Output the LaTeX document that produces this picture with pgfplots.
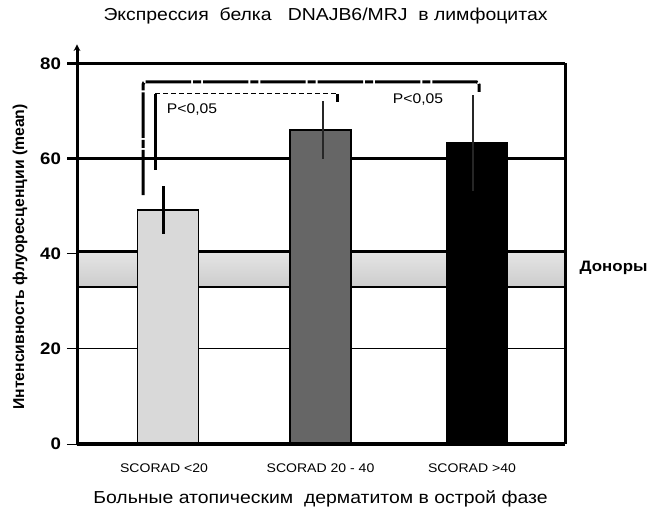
\documentclass[border=0pt]{standalone}
\usepackage{fontspec}
\setmainfont{Liberation Sans}[FakeStretch=1.12]
\newfontfamily\ylfont{Liberation Sans}
\usepackage{pgfplots}
\pgfplotsset{compat=1.18}
\usetikzlibrary{arrows.meta}
\begin{document}
\begin{tikzpicture}
\begin{axis}[
  name=ax, at={(0,0)}, anchor=south west,
  scale only axis, width=366pt, height=285.5pt,
  xmin=77, xmax=565, ymin=0, ymax=80,
  clip=false,
  axis line style={draw=none},
  ytick={0,20,40,60,80},
  ytick pos=left, tick align=outside,
  major tick length=7.5pt,
  ytick style={black, line width=0.6pt},
  yticklabel style={font=\bfseries\fontsize{12.5}{12.5}\selectfont, xshift=-1pt},
  /pgf/number format/assume math mode=true,
  xtick={164,320.5,472},
  xticklabels={SCORAD <20, SCORAD 20 - 40, SCORAD >40},
  xtick style={draw=none},
  xticklabel style={font=\fontsize{9.4}{9.4}\selectfont, yshift=-4pt},
]
% donor band (range 33 - 40.5)
\shade[top color=black!10, middle color=white, bottom color=black!20, shading angle=0]
  (axis cs:77,33) rectangle (axis cs:565,40.5);
\addplot[black, line width=2pt] coordinates {(77,40.5) (565,40.5)};
\addplot[black, line width=2pt] coordinates {(77,33) (565,33)};
% reference lines
\addplot[black, line width=0.8pt] coordinates {(77,20) (565,20)};
\addplot[black, line width=2.25pt] coordinates {(67,60) (565,60)};
\addplot[black, line width=2.25pt] coordinates {(67,80) (565,80)};
% bars
\addplot[ybar, bar shift=0pt, bar width=45.75pt, fill=black!15, draw=black, line width=1.2pt] coordinates {(167.8,49.2)};
\addplot[ybar, bar shift=0pt, bar width=45.75pt, fill=black!60, draw=black, line width=1.2pt] coordinates {(320.5,66.0)};
\addplot[ybar, bar shift=0pt, bar width=45.75pt, fill=black, draw=black, line width=1.2pt] coordinates {(477,63.2)};
% error bars
\addplot[draw=none, mark=none, error bars/.cd, y dir=both, y explicit, error mark=none,
  error bar style={black, line width=2.25pt}]
  coordinates {(163,49.2) +- (0,5.0)};
\addplot[draw=none, mark=none, error bars/.cd, y dir=both, y explicit, error mark=none,
  error bar style={black!85, line width=1.5pt}]
  coordinates {(323,66.0) +- (0,6.0)};
\addplot[draw=none, mark=none, error bars/.cd, y dir=both, y explicit, error mark=none,
  error bar style={black!85, line width=1.5pt}]
  coordinates {(473,63.2) +- (0,10.1)};
% significance brackets
\addplot[black, line width=2.25pt, dash pattern=on 34pt off 1.5pt on 6pt off 1.5pt, rounded corners=2pt]
  coordinates {(143,52.3) (143,76.1) (479,76.1) (479,73.9)};
\addplot[black, line width=0.8pt, dash pattern=on 4pt off 2pt]
  coordinates {(155,73.6) (337,73.6)};
\addplot[black, line width=2.25pt] coordinates {(155,57.6) (155,73.6)};
\addplot[black, line width=2.25pt] coordinates {(337,73.6) (337,71.9)};
\node[font=\fontsize{10.5}{10.5}\selectfont] at (axis cs:192,70.4) {P<0,05};
\node[font=\fontsize{10.5}{10.5}\selectfont] at (axis cs:418,72.3) {P<0,05};
% axis frame
\addplot[black, line width=3pt] coordinates {(77,0) (565,0)};
\addplot[black, line width=2.25pt] coordinates {(565,0) (565,80)};
\draw[black, line width=2.25pt, -{Stealth[length=5pt,width=5pt]}] (axis cs:77,-0.3) -- (axis cs:77,84);
\end{axis}
\begin{scope}[x=0.75pt, y=-0.75pt, shift={(-57.75pt,333pt)}]
\path (0,0) rectangle (652,511);
\node[anchor=base, font=\fontsize{13}{13}\selectfont] at (325.5,20.7) {Экспрессия\ \ белка\ \ \ DNAJB6/MRJ\ \ в лимфоцитах};
\node[anchor=base, font=\fontsize{13}{13}\selectfont] at (320.5,503) {Больные атопическим\ \ дерматитом в острой фазе};
\node[rotate=90, font=\ylfont\bfseries\fontsize{11.8}{11.8}\selectfont] at (20,257) {Интенсивность флуоресценции (mean)};
\node[anchor=west, font=\bfseries\fontsize{11.3}{11.3}\selectfont] at (575,268) {Доноры};
\end{scope}
\end{tikzpicture}
\end{document}
